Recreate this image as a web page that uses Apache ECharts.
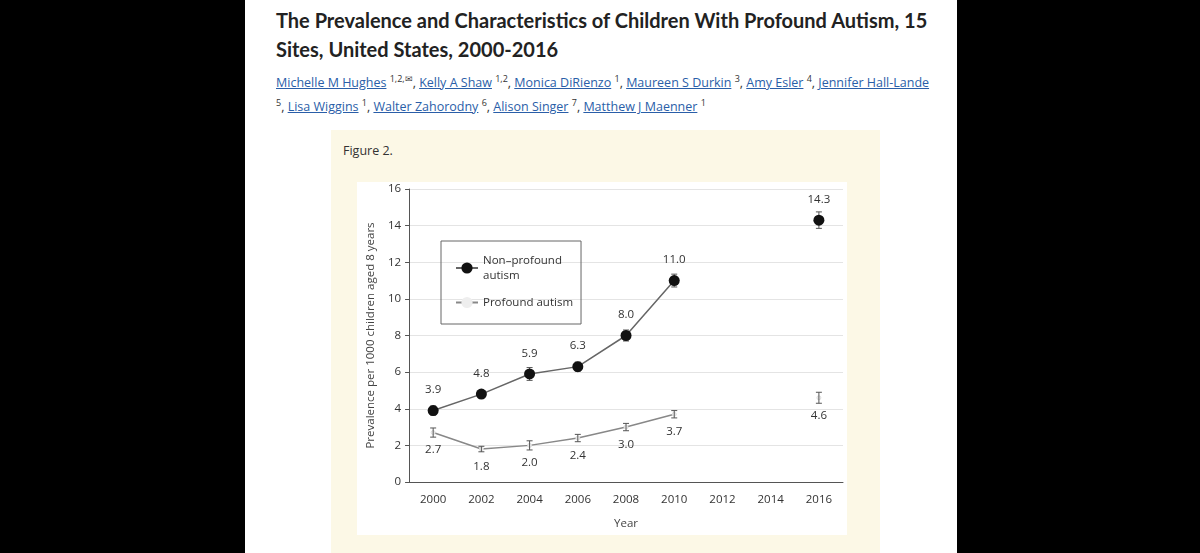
<!DOCTYPE html>
<html><head><meta charset="utf-8">
<script src="https://cdn.jsdelivr.net/npm/echarts@6/dist/echarts.min.js"></script>
<style>
body{margin:0;background:#000;width:1200px;height:553px;overflow:hidden;font-family:"Open Sans",sans-serif}
#page{position:absolute;left:245px;top:0;width:712px;height:553px;background:#fff;overflow:hidden}
#title{position:absolute;left:31px;top:6px;width:675px;font-family:Lato,sans-serif;font-size:20px;font-weight:bold;line-height:29px;color:#222}
#authors{position:absolute;left:31px;top:71px;width:700px;font-size:12.5px;line-height:24px;color:#333}
#authors a{color:#2a5ea8;text-decoration:underline}
#authors sup{font-size:9px;line-height:0}
#panel{position:absolute;left:86px;top:130px;width:549px;height:423px;background:#fcf8e6}
#fig{position:absolute;left:12px;top:12px;font-size:12.5px;color:#333}
#chart{position:absolute;left:26px;top:52px;width:490px;height:353px;background:#fff}
</style></head><body>
<div id="page">
<div id="title">The Prevalence and Characteristics of Children With Profound Autism, 15 Sites, United States, 2000-2016</div>
<div id="authors"><a>Michelle M Hughes</a> <sup>1,2,✉</sup>, <a>Kelly A Shaw</a> <sup>1,2</sup>, <a>Monica DiRienzo</a> <sup>1</sup>, <a>Maureen S Durkin</a> <sup>3</sup>, <a>Amy Esler</a> <sup>4</sup>, <a>Jennifer Hall-Lande</a><br><sup>5</sup>, <a>Lisa Wiggins</a> <sup>1</sup>, <a>Walter Zahorodny</a> <sup>6</sup>, <a>Alison Singer</a> <sup>7</sup>, <a>Matthew J Maenner</a> <sup>1</sup></div>
<div id="panel"><div id="fig">Figure 2.</div><div id="chart"></div></div>
</div>
<script>
const years = ['2000','2002','2004','2006','2008','2010','2012','2014','2016'];
const nonProfound = [3.9, 4.8, 5.9, 6.3, 8.0, 11.0, null, null, 14.3];
const nonProfoundErr = [0.25, 0.2, 0.35, 0.25, 0.3, 0.35, null, null, 0.45];
const profound = [2.7, 1.8, 2.0, 2.4, 3.0, 3.7, null, null, 4.6];
const profoundErr = [0.25, 0.15, 0.25, 0.2, 0.2, 0.2, null, null, 0.3];

function errSeries(vals, errs) {
  const data = [];
  vals.forEach((v, i) => { if (v != null) data.push([i, v - errs[i], v + errs[i]]) });
  return {
    type: 'custom', silent: true, z: 5, data: data,
    renderItem: function(params, api) {
      const lo = api.coord([api.value(0), api.value(1)]);
      const hi = api.coord([api.value(0), api.value(2)]);
      const w = 3;
      const st = { stroke: '#555', lineWidth: 1 };
      return { type: 'group', children: [
        { type: 'line', shape: { x1: lo[0], y1: lo[1], x2: hi[0], y2: hi[1] }, style: st },
        { type: 'line', shape: { x1: lo[0]-w, y1: lo[1], x2: lo[0]+w, y2: lo[1] }, style: st },
        { type: 'line', shape: { x1: hi[0]-w, y1: hi[1], x2: hi[0]+w, y2: hi[1] }, style: st }
      ]};
    }
  };
}

const chart = echarts.init(document.getElementById('chart'));
chart.setOption({
  animation: false,
  textStyle: { fontFamily: 'Open Sans' },
  grid: { left: 41, right: 4, top: 7, bottom: 50 },
  legend: {
    left: 84, top: 59, width: 138, height: 82, orient: 'vertical',
    padding: [12, 8, 14, 14], itemGap: 12, itemWidth: 22,
    borderColor: '#666', borderWidth: 1, selectedMode: false,
    textStyle: { fontSize: 11.5, color: '#333', lineHeight: 15 },
    data: [{ name: 'Non–profound\nautism' }, { name: 'Profound autism' }]
  },
  xAxis: {
    type: 'category', data: years, boundaryGap: true,
    name: 'Year', nameLocation: 'middle', nameGap: 36,
    nameTextStyle: { fontSize: 11.5, color: '#444' },
    axisLine: { lineStyle: { color: '#555' } },
    axisTick: { show: false },
    axisLabel: { fontSize: 11.5, color: '#333', margin: 12 }
  },
  yAxis: {
    type: 'value', min: 0, max: 16, interval: 2,
    name: 'Prevalence per 1000 children aged 8 years', nameLocation: 'middle', nameGap: 28,
    nameTextStyle: { fontSize: 11.5, color: '#444' },
    axisLine: { show: true, lineStyle: { color: '#555' } },
    axisTick: { show: true, length: 4, lineStyle: { color: '#555' } },
    axisLabel: { fontSize: 11.5, color: '#333', margin: 8 },
    splitLine: { lineStyle: { color: '#e4e4e4' } }
  },
  series: [
    {
      name: 'Non–profound\nautism', type: 'line', data: nonProfound, z: 6,
      symbol: 'circle', symbolSize: 11,
      itemStyle: { color: '#111' }, lineStyle: { color: '#666', width: 1.5 },
      label: { show: true, position: 'top', distance: 9, fontSize: 11.5, color: '#333',
        formatter: p => p.value.toFixed(1) }
    },
    {
      name: 'Profound autism', type: 'line', data: profound, z: 4,
      symbol: 'circle', symbolSize: 4, showSymbol: true,
      itemStyle: { color: '#eee', borderColor: '#ddd' }, lineStyle: { color: '#888', width: 1.5 },
      label: { show: true, position: 'bottom', distance: 9, fontSize: 11.5, color: '#333',
        formatter: p => p.value.toFixed(1) }
    },
    errSeries(nonProfound, nonProfoundErr),
    errSeries(profound, profoundErr)
  ]
});
</script>
</body></html>
